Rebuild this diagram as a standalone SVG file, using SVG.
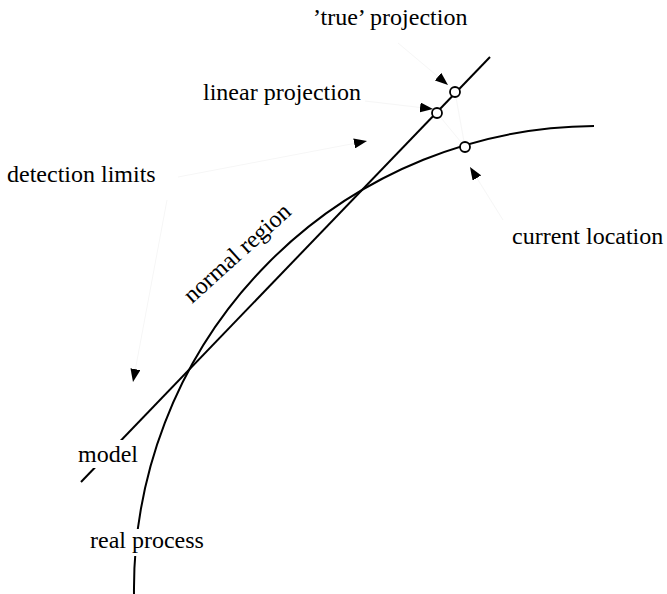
<svg xmlns="http://www.w3.org/2000/svg" width="667" height="594" viewBox="0 0 667 594">
<style>
.lbl{font-family:"Liberation Serif","Tinos","Times New Roman","DejaVu Serif",serif;font-size:24px;fill:#000}
.curve{fill:none;stroke:#000;stroke-width:2}
.leader{fill:none;stroke:#f6f6f6;stroke-width:1}
.pt{fill:#fff;stroke:#000;stroke-width:1.8}
</style>
<defs>
<marker id="ah" markerUnits="userSpaceOnUse" markerWidth="14" markerHeight="10" refX="13" refY="5" orient="auto">
<path d="M0,0 L13,5 L0,10 Z" fill="#000"/>
</marker>
</defs>
<rect width="667" height="594" fill="#fff"/>
<g id="connectors">
<path id="real-process-curve" class="curve" d="M134,594 A463,463 0 0 1 594,126"/>
<line id="model-line" class="curve" x1="81" y1="482" x2="490" y2="57"/>
<line class="leader" x1="455" y1="92" x2="465" y2="147"/>
<line class="leader" x1="437" y1="113" x2="465" y2="147"/>
<line class="leader" x1="398" y1="43" x2="448" y2="85" marker-end="url(#ah)"/>
<line class="leader" x1="365" y1="101" x2="433" y2="109" marker-end="url(#ah)"/>
<line class="leader" x1="178" y1="177" x2="367" y2="141" marker-end="url(#ah)"/>
<line class="leader" x1="167" y1="200" x2="133" y2="382" marker-end="url(#ah)"/>
<line class="leader" x1="503" y1="220" x2="470" y2="167" marker-end="url(#ah)"/>
</g>
<g id="true-projection">
<circle class="pt" cx="455" cy="92" r="5"/>
<text class="lbl" x="313" y="25">’true’ projection</text>
</g>
<g id="linear-projection">
<circle class="pt" cx="437" cy="113" r="5"/>
<text class="lbl" x="203" y="100">linear projection</text>
</g>
<g id="current-location">
<circle class="pt" cx="465" cy="147" r="5"/>
<text class="lbl" x="512" y="244">current location</text>
</g>
<g id="detection-limits">
<text class="lbl" x="7" y="182">detection limits</text>
</g>
<g id="normal-region">
<text class="lbl" x="192" y="304" transform="rotate(-42 192 304)">normal region</text>
</g>
<g id="model">
<rect x="76" y="440" width="64" height="28" fill="#fff"/>
<text class="lbl" x="78" y="462">model</text>
</g>
<g id="real-process">
<rect x="120" y="529" width="24" height="27" fill="#fff"/>
<text class="lbl" x="90" y="548">real process</text>
</g>
</svg>
